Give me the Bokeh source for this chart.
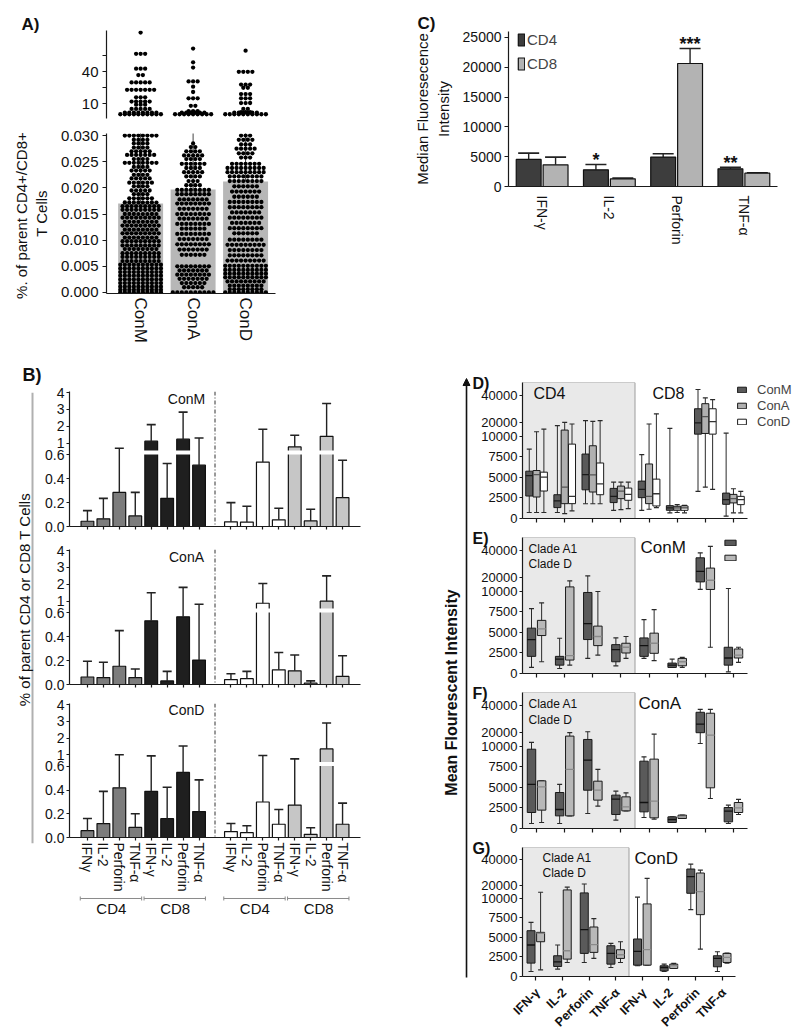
import numpy as np
from math import pi
from bokeh.plotting import figure
from bokeh.layouts import column, row
from bokeh.models import (Range1d, FactorRange, FixedTicker, NumeralTickFormatter, Label, Title,
                          Legend, LegendItem, Span, Arrow, NormalHead, ColumnDataSource,
                          CustomJSTransform, Spacer)
from bokeh.transform import dodge, transform
from bokeh.core.properties import value
from bokeh.embed import file_html
from bokeh.resources import INLINE

FONT = "Liberation Sans"
INK = "#1a1a1a"

# ====================== DATA ======================
# ---- Panel A: % of parent CD4+/CD8+ T cells (swarm rows: value, number of dots)
A_GROUPS = ["ConM", "ConA", "ConD"]
A_MEAN = [0.0170, 0.0197, 0.0212]
A_SD_TOP = [0.05, 0.05, 0.05]

A_CONM_LO_VALS = [0.0300, 0.0292, 0.0285, 0.0277, 0.0270, 0.0263, 0.0255, 0.0248, 0.0240, 0.0233,
                  0.0225, 0.0218, 0.0210, 0.0203, 0.0195, 0.0188, 0.0180, 0.0172, 0.0165, 0.0158,
                  0.0150, 0.0143, 0.0135, 0.0128, 0.0120, 0.0113, 0.0105, 0.0098, 0.0090, 0.0083,
                  0.0075, 0.0068, 0.0060, 0.0053, 0.0046, 0.0039, 0.0032, 0.0025, 0.0018, 0.0011,
                  0.0005, 0.0000]
A_CONM_LO_N = [8, 4, 4, 4, 5, 7, 4, 8, 4, 5, 4, 5, 6, 4, 5, 4, 6, 8, 9, 9,
               8, 9, 8, 9, 8, 9, 8, 9, 9, 8, 9, 9, 9, 10, 10, 10, 10, 10, 10, 10, 10, 10]
A_CONA_LO_VALS = [0.0285, 0.0278, 0.0270, 0.0262, 0.0255, 0.0246, 0.0238, 0.0230, 0.0222, 0.0213,
                  0.0205, 0.0196, 0.0188, 0.0178, 0.0170, 0.0160, 0.0150, 0.0141, 0.0131, 0.0122,
                  0.0112, 0.0102, 0.0092, 0.0082, 0.0072, 0.0050, 0.0042, 0.0034, 0.0026, 0.0018,
                  0.0010, 0.0000]
A_CONA_LO_N = [1, 2, 4, 5, 4, 6, 4, 5, 4, 3, 4, 8, 8, 7, 8, 7, 8, 7, 8, 6,
               8, 7, 8, 7, 6, 8, 7, 8, 7, 6, 5, 10]
A_COND_LO_VALS = [0.0300, 0.0292, 0.0283, 0.0275, 0.0266, 0.0258, 0.0246, 0.0238, 0.0230, 0.0222,
                  0.0213, 0.0203, 0.0193, 0.0183, 0.0173, 0.0163, 0.0153, 0.0143, 0.0133, 0.0123,
                  0.0113, 0.0101, 0.0091, 0.0081, 0.0071, 0.0061, 0.0051, 0.0043, 0.0036, 0.0029,
                  0.0021, 0.0013, 0.0006, 0.0000]
A_COND_LO_N = [3, 4, 3, 5, 4, 3, 7, 9, 9, 8, 8, 6, 7, 6, 8, 8, 7, 8, 7, 8,
               6, 8, 9, 8, 8, 9, 10, 10, 10, 10, 9, 8, 8, 10]
A_CONM_HI_VALS = [77, 57, 43, 37, 30, 23, 16, 12, 9, 5, 1.5, 0]
A_CONM_HI_N = [1, 3, 3, 2, 5, 7, 3, 5, 3, 5, 8, 10]
A_CONA_HI_VALS = [62, 49, 44, 31, 26, 21, 15, 8, 3, 1.5, 0]
A_CONA_HI_N = [1, 1, 1, 3, 1, 1, 3, 2, 3, 6, 9]
A_COND_HI_VALS = [60, 40, 28, 25, 19, 15, 10.6, 5, 2, 1.5, 0]
A_COND_HI_N = [1, 4, 3, 2, 3, 3, 3, 2, 3, 6, 10]

# ---- Panel B: % of parent CD4 or CD8 T cells (mean, upper error)
B_CYTOKINES = ["IFNγ", "IL-2", "Perforin", "TNF-α", "IFN-γ", "IL-2", "Perforin", "TNF-α"]
B_CELLS = ["CD4", "CD8", "CD4", "CD8"]
B_FILLS = ["#7c7c7c", "#1f1f1f", "#ffffff", "#c6c6c6"]
B_CONM_MEAN = [0.044, 0.064, 0.286, 0.089, 1.12, 0.236, 1.24, 0.514,
               0.039, 0.037, 0.54, 0.056, 0.78, 0.047, 1.41, 0.242]
B_CONM_ERR = [0.133, 0.236, 0.70, 0.286, 2.10, 0.528, 2.84, 1.31,
              0.20, 0.17, 1.83, 0.153, 1.47, 0.144, 3.35, 0.556]
B_CONA_MEAN = [0.063, 0.058, 0.153, 0.058, 0.534, 0.030, 0.567, 0.205,
               0.041, 0.049, 0.88, 0.123, 0.115, 0.011, 1.0, 0.068]
B_CONA_ERR = [0.195, 0.186, 0.452, 0.130, 1.50, 0.110, 1.82, 0.82,
              0.090, 0.110, 2.05, 0.268, 0.247, 0.030, 2.5, 0.241]
B_COND_MEAN = [0.058, 0.118, 0.42, 0.085, 0.39, 0.159, 0.55, 0.219,
               0.050, 0.041, 0.30, 0.112, 0.274, 0.027, 1.35, 0.112]
B_COND_ERR = [0.160, 0.390, 1.00, 0.200, 0.94, 0.424, 1.53, 0.487,
              0.118, 0.099, 0.96, 0.236, 0.76, 0.082, 2.9, 0.290]
B_TICKS = [0, 0.2, 0.4, 0.6, 1, 2, 3, 4]
B_TICK_LABELS = ["0.0", "0.2", "0.4", "0.6", "1", "2", "3", "4"]

# ---- Panel C: median fluorescence intensity
C_CYTOKINES = ["IFN-γ", "IL-2", "Perforin", "TNF-α"]
C_CD4 = [4550, 2800, 4930, 2970]
C_CD4_ERR = [5600, 3700, 5490, 3200]
C_CD8 = [3640, 1290, 20630, 2240]
C_CD8_ERR = [4930, 1400, 23150, 2300]
C_CD4_SIG = ["", "*", "", "**"]
C_CD8_SIG = ["", "", "***", ""]

# ---- Panels D-G: mean fluorescent intensity box plots (low whisker, q1, median, q3, high whisker)
MFI_CYTOKINES = ["IFN-γ", "IL-2", "Perforin", "TNF-α"] * 2
MFI_CELLS = ["CD4"] * 4 + ["CD8"] * 4
MFI_TICKS = [0, 2500, 5000, 7500, 10000, 20000, 40000]

D_CONM = dict(low=[730, 730, 1800, 1000, 1000, 690, 3300, 280],
              q1=[2740, 1330, 3500, 1940, 2540, 1000, 11750, 1730],
              med=[5240, 2140, 5360, 2700, 3550, 1290, 20000, 2300],
              q3=[5770, 2900, 7860, 3670, 4560, 1570, 30500, 3100],
              high=[8470, 18000, 21750, 4440, 7780, 16000, 44750, 12500])
D_CONA = dict(low=[730, 600, 1800, 1090, 1130, 730, 3830, 690],
              q1=[2620, 1810, 3230, 2420, 1810, 1000, 12250, 1900],
              med=[5360, 3830, 5320, 3350, 2700, 1290, 24750, 2420],
              q3=[5850, 14750, 8870, 3950, 6650, 1490, 34250, 2940],
              high=[13500, 20500, 21250, 4440, 19250, 1700, 38500, 3630])
D_COND = dict(low=[730, 930, 1800, 1200, 1330, 690, 3550, 690],
              q1=[3350, 1810, 2900, 2220, 1530, 1000, 11750, 1690],
              med=[5040, 2700, 4230, 2940, 3020, 1290, 21000, 2300],
              q3=[5650, 9070, 6770, 3710, 4800, 1530, 30500, 2700],
              high=[15500, 19250, 21750, 4440, 26750, 1610, 37250, 3310])
E_A1 = dict(low=[740, 610, 1840, 940, 1840, 740, 11500, 200],
            q1=[2090, 1020, 4140, 1430, 2090, 740, 17100, 1020],
            med=[4140, 1760, 6070, 2910, 3400, 1020, 24900, 1890],
            q3=[5530, 2090, 9880, 3520, 4340, 1270, 34900, 3200],
            high=[7900, 4300, 21500, 4340, 6560, 1760, 38500, 12200])
E_D = dict(low=[1430, 1020, 2250, 1840, 1560, 740, 3200, 1350],
           q1=[4630, 1640, 3400, 2500, 2460, 940, 11500, 1890],
           med=[5450, 2170, 4510, 3200, 3690, 1430, 18300, 2250],
           q3=[6480, 13400, 5780, 3690, 4920, 1840, 27300, 2990],
           high=[8610, 17800, 10000, 4510, 7790, 1970, 43400, 3200])
F_A1 = dict(low=[610, 610, 1830, 1020, 1340, 730, 12200, 610],
            q1=[1950, 1540, 4670, 1710, 2030, 730, 20200, 810],
            med=[5370, 2320, 8330, 3580, 3170, 1100, 26600, 2110],
            q3=[9670, 4390, 15200, 4070, 8210, 1420, 35300, 2560],
            high=[13000, 5370, 20900, 4550, 8740, 1420, 37500, 2850])
F_D = dict(low=[730, 1540, 2720, 2150, 1140, 1220, 3660, 1710],
           q1=[2240, 1540, 3460, 2150, 1300, 1220, 4960, 1950],
           med=[5080, 7200, 4670, 2640, 3330, 1420, 18400, 2520],
           q3=[5810, 17700, 5770, 3860, 8460, 1630, 34600, 3170],
           high=[5810, 20200, 7200, 4350, 19200, 1630, 37500, 3540])
G_A1 = dict(low=[640, 940, 1790, 1150, 1370, 640, 8550, 640],
            q1=[1710, 1280, 2950, 1580, 1450, 730, 13800, 1240],
            med=[4020, 1880, 5980, 2950, 3210, 1150, 26700, 2310],
            q3=[5850, 2650, 14100, 3930, 4790, 1370, 32600, 2650],
            high=[6920, 4020, 21000, 4230, 10770, 1580, 36400, 3160])
G_D = dict(low=[850, 1790, 2310, 1790, 1450, 1030, 3500, 1710],
           q1=[4440, 2220, 3080, 2310, 1450, 1030, 7900, 1790],
           med=[5510, 3290, 4060, 2780, 3420, 1370, 15100, 2440],
           q3=[5640, 16400, 6320, 3420, 9270, 1580, 29500, 2950],
           high=[14600, 18500, 7390, 4440, 25400, 1670, 31800, 2990])


# ====================== HELPERS ======================
def style_axis(ax, size="14px"):
    ax.axis_line_color = INK
    ax.axis_line_width = 1.2
    ax.major_tick_line_color = INK
    ax.major_tick_line_width = 1.2
    ax.major_tick_in = 0
    ax.major_tick_out = 4
    ax.minor_tick_line_color = None
    ax.major_label_text_font = FONT
    ax.major_label_text_font_size = size
    ax.major_label_text_color = "#111111"
    ax.major_label_standoff = 3
    ax.axis_label_text_font = FONT
    ax.axis_label_text_font_style = "normal"
    ax.axis_label_text_color = "#111111"


def base_fig(w, h, xr, yr, left, right, top, bottom, xaxis=True, yaxis=True):
    p = figure(width=w, height=h, x_range=xr, y_range=yr, output_backend="svg",
               toolbar_location=None,
               x_axis_location="below" if xaxis else None,
               y_axis_location="left" if yaxis else None,
               min_border_left=left, min_border_right=right,
               min_border_top=top, min_border_bottom=bottom)
    p.outline_line_color = None
    p.xgrid.visible = False
    p.ygrid.visible = False
    p.border_fill_color = "white"
    p.background_fill_color = "white"
    for ax in p.axis:
        style_axis(ax)
    return p


def add_text(p, x, y, text, size, bold=False, align="left", xu="screen", yu="screen", angle=0):
    p.add_layout(Label(x=x, y=y, x_units=xu, y_units=yu, text=text, text_font=FONT,
                       text_font_size=size, text_font_style="bold" if bold else "normal",
                       text_align=align, text_baseline="middle", text_color="#111111",
                       angle=angle))


def add_letter(p, text, offset, standoff, size="18px"):
    p.add_layout(Title(text=text, align="left", offset=offset, standoff=standoff,
                       text_font=FONT, text_font_size=size, text_font_style="bold",
                       text_color="#111111"), "above")


# ====================== PANEL A ======================
DOT_STEP = 0.086


def swarm(center, vals, counts):
    xs, ys = [], []
    for v, n in zip(vals, counts):
        for i in range(n):
            xs.append(center + (i - (n - 1) / 2) * DOT_STEP)
            ys.append(v)
    return xs, ys


a_x = list(range(len(A_GROUPS)))
a_xr = Range1d(-0.65, 2.57)
DOT = 4.3

a_top = base_fig(382, 114, a_xr, Range1d(-4, 79), 98, 115, 22, 4, xaxis=False)
a_top.yaxis.ticker = FixedTicker(ticks=[10, 25, 40, 55])
a_top.yaxis.major_label_overrides = {25: "", 55: ""}
a_top.yaxis.major_label_text_font_size = "15px"
a_top.yaxis.major_label_standoff = 4
for c, vals, n in zip(a_x, [A_CONM_HI_VALS, A_CONA_HI_VALS, A_COND_HI_VALS],
                      [A_CONM_HI_N, A_CONA_HI_N, A_COND_HI_N]):
    xs, ys = swarm(c, vals, n)
    a_top.scatter(xs, ys, size=DOT, fill_color="#000000", line_color=None)
add_letter(a_top, "A)", -85, -6, "17px")

a_bot = base_fig(382, 230, a_xr, Range1d(-0.0002, 0.0304), 98, 115, 11, 59)
a_bot.vbar(x=a_x, top=A_MEAN, width=0.857, fill_color="#b7b7b7", line_color=None)
a_bot.segment(x0=a_x, y0=A_MEAN, x1=a_x, y1=A_SD_TOP, line_color="#444444", line_width=1)
for c, vals, n in zip(a_x, [A_CONM_LO_VALS, A_CONA_LO_VALS, A_COND_LO_VALS],
                      [A_CONM_LO_N, A_CONA_LO_N, A_COND_LO_N]):
    xs, ys = swarm(c, vals, n)
    a_bot.scatter(xs, ys, size=DOT, fill_color="#000000", line_color=None)
a_bot.yaxis.ticker = FixedTicker(ticks=[0, 0.005, 0.010, 0.015, 0.020, 0.025, 0.030])
a_bot.yaxis.formatter = NumeralTickFormatter(format="0.000")
a_bot.yaxis.major_label_text_font_size = "15px"
a_bot.yaxis.major_label_standoff = 4
a_bot.yaxis.axis_label = "%. of parent  CD4+/CD8+\nT Cells"
a_bot.yaxis.axis_label_text_font_size = "15px"
a_bot.yaxis.axis_label_standoff = 8
a_bot.xaxis.ticker = FixedTicker(ticks=a_x)
a_bot.xaxis.major_label_overrides = dict(zip(a_x, A_GROUPS))
a_bot.xaxis.major_label_orientation = "vertical"
a_bot.xaxis.major_label_text_font_size = "17px"
a_bot.xaxis.major_tick_out = 0
a_bot.xaxis.major_label_standoff = 4

# ====================== PANEL B (broken y axis: 0-0.6 then compressed 0.6-4) ======================
b_pos = list(range(8)) + list(range(9, 17))
b_labels = B_CYTOKINES * 2
b_fill = [f for f in B_FILLS for _ in range(4)]
b_gap = 8
BX = Range1d(-1.125, 17.125)
B_BREAK = 0.6
B_GAP = 5 / 120
B_K = 17 / 120
b_tf = CustomJSTransform(args=dict(c=B_BREAK, g=B_GAP, k=B_K),
                         v_func="return xs.map((v) => v <= c ? v : c + g + (v - c) * k)")


def b_scale(v):
    return v if v <= B_BREAK else B_BREAK + B_GAP + (v - B_BREAK) * B_K


def b_panel(h, top, bottom, mean, err, title, show_labels):
    p = base_fig(348, h, BX, Range1d(0, b_scale(4.06)), 26, 30, top, bottom)
    p.yaxis.ticker = FixedTicker(ticks=[b_scale(v) for v in B_TICKS])
    p.yaxis.major_label_overrides = {b_scale(v): l for v, l in zip(B_TICKS, B_TICK_LABELS)}
    p.yaxis.major_label_standoff = 2
    p.yaxis.major_tick_out = 3
    p.xaxis.ticker = FixedTicker(ticks=b_pos)
    p.xaxis.major_label_overrides = {x: (l if show_labels else "") for x, l in zip(b_pos, b_labels)}
    p.xaxis.major_label_orientation = "vertical"
    p.xaxis.major_tick_out = 3
    p.xaxis.major_label_standoff = 2
    src = ColumnDataSource(dict(x=b_pos, mean=mean, err=err, fill=b_fill))
    p.vbar(x="x", top=transform("mean", b_tf), bottom=0, width=0.8, source=src, fill_color="fill",
           line_color="#111111", line_width=1.2)
    # white break band of the broken axis
    p.quad(left=BX.start, right=BX.end, bottom=B_BREAK + 0.004, top=B_BREAK + B_GAP - 0.004,
           fill_color="white", line_color=None)
    p.segment(x0="x", y0=transform("mean", b_tf), x1="x", y1=transform("err", b_tf), source=src,
              line_color="#222222", line_width=1.4)
    p.scatter(x="x", y=transform("err", b_tf), source=src, marker="dash", size=9,
              line_color="#222222", line_width=1.6)
    p.add_layout(Span(location=b_gap, dimension="height", line_color="#333333",
                      line_width=1, line_dash="4 2 1 2"))
    add_text(p, 117, 128, title, "14px", align="center")
    return p


b1 = b_panel(183, 39, 9, B_CONM_MEAN, B_CONM_ERR, "ConM", False)
b2 = b_panel(158, 14, 9, B_CONA_MEAN, B_CONA_ERR, "ConA", False)
b3 = b_panel(201, 10, 56, B_COND_MEAN, B_COND_ERR, "ConD", True)

b_grp = base_fig(348, 129, BX, Range1d(0, 1), 26, 30, 0, 99, xaxis=False, yaxis=False)
g_x0, g_x1, g_c = [], [], []
for k in range(len(B_CELLS)):
    slots = b_pos[4 * k:4 * k + 4]
    g_x0.append(slots[0] - 0.45)
    g_x1.append(slots[-1] + 0.4)
    g_c.append((slots[0] + slots[-1]) / 2)
b_grp.segment(x0=g_x0, y0=0.867, x1=g_x1, y1=0.867, line_color="#8a8a8a", line_width=1)
b_grp.scatter(x=g_x0 + g_x1, y=0.867, marker="dash", angle=pi / 2, size=4, line_color="#8a8a8a")
b_grp.text(x=g_c, y=0.533, text=B_CELLS, text_font=value(FONT), text_font_size="15px",
           text_align="center", text_baseline="middle", text_color="#111111")

# left strip of panel B: letter, shared axis title and the grey rule
b_strip = base_fig(34, 671, Range1d(0, 1), Range1d(0, 1), 0, 0, 40, 180, xaxis=False, yaxis=False)
b_strip.add_layout(Span(location=0.706, dimension="height", line_color="#b0b0b0", line_width=2))
add_text(b_strip, 16, 244, "% of parent CD4 or CD8 T Cells", "15px", align="center", angle=pi / 2)
add_letter(b_strip, "B)", 14, 16)

# ====================== PANEL C ======================
c_src = ColumnDataSource(dict(cat=C_CYTOKINES, cd4=C_CD4, cd4_err=C_CD4_ERR, cd8=C_CD8,
                              cd8_err=C_CD8_ERR, cd4_sig=C_CD4_SIG, cd8_sig=C_CD8_SIG))
c_fig = base_fig(402, 254, FactorRange(*C_CYTOKINES), Range1d(0, 26000), 118, 15, 23, 76)
c_rend = {}
for field, off, fill in [("cd4", -0.2, "#3d3d3d"), ("cd8", 0.2, "#b3b3b3")]:
    xs = dodge("cat", off, range=c_fig.x_range)
    c_fig.segment(x0=xs, y0=field, x1=xs, y1=field + "_err", source=c_src,
                  line_color="#222222", line_width=1.4)
    c_fig.scatter(x=xs, y=field + "_err", source=c_src, marker="dash", size=21,
                  line_color="#222222", line_width=1.6)
    c_rend[field] = c_fig.vbar(x=xs, top=field, width=0.37, source=c_src, fill_color=fill,
                               line_color="#111111", line_width=1.2)
    c_fig.text(x=xs, y=field + "_err", text=field + "_sig", source=c_src, y_offset=-4,
               text_font=value(FONT), text_font_size="18px", text_font_style="bold",
               text_align="center", text_baseline="middle", text_color="#111111")
c_fig.yaxis.ticker = FixedTicker(ticks=[0, 5000, 10000, 15000, 20000, 25000])
c_fig.yaxis.axis_label = "Median Fluoresecence\nIntensity"
c_fig.yaxis.axis_label_text_font_size = "15px"
c_fig.yaxis.axis_label_standoff = 8
c_fig.xaxis.major_label_orientation = "vertical"
c_fig.xaxis.major_tick_out = 0
c_fig.xaxis.major_label_standoff = 9
c_leg = Legend(items=[LegendItem(label="CD4", renderers=[c_rend["cd4"]]),
                      LegendItem(label="CD8", renderers=[c_rend["cd8"]])],
               location=(9, 114), glyph_width=8, glyph_height=15, label_height=15, spacing=7,
               label_standoff=2, padding=0, margin=0, border_line_color=None,
               background_fill_alpha=0, label_text_font=FONT, label_text_font_size="15px")
c_fig.add_layout(c_leg)
add_letter(c_fig, "C)", -91, -2, "17px")

# ====================== PANELS D-G ======================
MFI_BREAK = 10000
MFI_SQUEEZE = 0.165
mfi_tf = CustomJSTransform(args=dict(b=MFI_BREAK, k=MFI_SQUEEZE),
                           v_func="return xs.map((v) => v <= b ? v : b + (v - b) * k)")


def mfi_pos(v):
    return v if v <= MFI_BREAK else int(round(MFI_BREAK + (v - MFI_BREAK) * MFI_SQUEEZE))


def T(f):
    return transform(f, mfi_tf)


n_mfi = len(MFI_CYTOKINES)
mfi_x = [i + 0.5 for i in range(n_mfi)]
cd4_idx = [i for i, c in enumerate(MFI_CELLS) if c == "CD4"]
DEF_XR = Range1d(0, 9.6)      # 28.1 px per cytokine, frame reaches the legend area
G_XR = Range1d(0, 10.14)      # bottom panel is slightly narrower per cytokine
G_PX = 270 / 10.14
G_LAB_XR = Range1d(-92 / G_PX, 10.14)


def mfi_fig(h, top, bottom, ytop, xr):
    p = base_fig(320, h, xr, Range1d(0, ytop), 50, 0, top, bottom)
    for ax in p.axis:
        style_axis(ax, "13px")
    p.yaxis.ticker = FixedTicker(ticks=[mfi_pos(v) for v in MFI_TICKS])
    p.yaxis.major_label_overrides = {mfi_pos(v): str(v) for v in MFI_TICKS}
    p.yaxis.major_tick_out = 3
    p.yaxis.major_label_standoff = 2
    p.xaxis.ticker = FixedTicker(ticks=mfi_x)
    p.xaxis.major_label_overrides = {x: "" for x in mfi_x}
    p.xaxis.major_tick_out = 4
    p.xaxis.major_label_standoff = 0
    p.xaxis.bounds = (0, n_mfi)
    p.quad(left=min(cd4_idx), right=max(cd4_idx) + 1, bottom=0, top=ytop,
           fill_color="#e9e9e9", line_color="#9c9c9c", line_width=1)
    return p


def mfi_boxes(p, stats, off, w, fill, med_color, cap=5):
    xs = [x + off for x in mfi_x]
    src = ColumnDataSource(dict(x=xs, xl=[x - w / 2 for x in xs], xr=[x + w / 2 for x in xs], **stats))
    p.segment(x0="x", y0=T("low"), x1="x", y1=T("high"), source=src, line_color="#2a2a2a", line_width=1)
    p.scatter(x="x", y=T("low"), source=src, marker="dash", size=cap, line_color="#2a2a2a", line_width=1.2)
    p.scatter(x="x", y=T("high"), source=src, marker="dash", size=cap, line_color="#2a2a2a", line_width=1.2)
    r = p.vbar(x="x", width=w, bottom=T("q1"), top=T("q3"), source=src, fill_color=fill,
               line_color="#1a1a1a", line_width=1)
    p.segment(x0="xl", y0=T("med"), x1="xr", y1=T("med"), source=src, line_color=med_color, line_width=1.3)
    return r


DARK, LIGHT = "#5a5a5a", "#b8b8b8"
LETTER = "16px"

d_fig = mfi_fig(266, 120, 10, 16585, DEF_XR)
rd = [mfi_boxes(d_fig, D_CONM, -0.26, 0.25, DARK, "#1a1a1a"),
      mfi_boxes(d_fig, D_CONA, 0.0, 0.25, "#b0b0b0", "#555555"),
      mfi_boxes(d_fig, D_COND, 0.26, 0.25, "#ffffff", "#333333")]
d_leg = Legend(items=[LegendItem(label=n, renderers=[r]) for n, r in zip(["ConM", "ConA", "ConD"], rd)],
               location=(214, 89), glyph_width=11, glyph_height=7, label_height=14, spacing=1,
               label_standoff=10, padding=0, margin=0, border_line_color=None,
               background_fill_alpha=0, label_text_font=FONT, label_text_font_size="13px",
               label_text_baseline="alphabetic")
d_fig.add_layout(d_leg)
add_text(d_fig, 11, 125, "CD4", "16px")
add_text(d_fig, 130, 125, "CD8", "16px")
add_letter(d_fig, "D)", -50, -18, LETTER)

e_fig = mfi_fig(155, 9, 10, 16585, DEF_XR)
re = [mfi_boxes(e_fig, E_A1, -0.18, 0.3, DARK, "#111111"),
      mfi_boxes(e_fig, E_D, 0.18, 0.3, LIGHT, "#8a8a8a")]
e_leg = Legend(items=[LegendItem(label=" ", renderers=[r]) for r in re],
               location=(201, 111), glyph_width=14, glyph_height=7, label_height=9, spacing=6,
               label_standoff=0, padding=0, margin=0, border_line_color=None,
               background_fill_alpha=0, label_text_font=FONT, label_text_font_size="8px")
e_fig.add_layout(e_leg)
add_text(e_fig, 6, 125, "Clade A1", "12px")
add_text(e_fig, 6, 110, "Clade D", "12px")
add_text(e_fig, 118, 126, "ConM", "17px")
add_letter(e_fig, "E)", -50, -19, LETTER)

f_fig = mfi_fig(155, 9, 10, 16585, DEF_XR)
mfi_boxes(f_fig, F_A1, -0.18, 0.3, DARK, "#111111")
mfi_boxes(f_fig, F_D, 0.18, 0.3, LIGHT, "#8a8a8a")
add_text(f_fig, 6, 125, "Clade A1", "12px")
add_text(f_fig, 6, 109, "Clade D", "12px")
add_text(f_fig, 116, 125, "ConA", "17px")
add_letter(f_fig, "F)", -50, -19, LETTER)

g_fig = mfi_fig(146, 9, 8, 16475, G_XR)
mfi_boxes(g_fig, G_A1, -0.18, 0.3, DARK, "#111111")
mfi_boxes(g_fig, G_D, 0.18, 0.3, LIGHT, "#8a8a8a")
add_text(g_fig, 20, 119, "Clade A1", "12px")
add_text(g_fig, 20, 104, "Clade D", "12px")
add_text(g_fig, 112, 118, "ConD", "17px")
add_letter(g_fig, "G)", -50, -19, LETTER)

# rotated cytokine names under panel G (same px-per-cytokine scale as panel G)
g_lab = base_fig(362, 46, G_LAB_XR, Range1d(0, 1), 0, 0, 0, 0, xaxis=False, yaxis=False)
g_lab.text(x=mfi_x, y=1, text=MFI_CYTOKINES, angle=pi / 4, x_offset=2, y_offset=6,
           text_font=value(FONT), text_font_size="12.5px", text_font_style="bold",
           text_align="right", text_baseline="middle", text_color="#111111")

# strip left of D-G: axis title and the long arrow
m_strip = base_fig(82, 722, Range1d(0, 1), Range1d(0, 1), 0, 0, 0, 0, xaxis=False, yaxis=False)
add_text(m_strip, 61, 292, "Mean Flourescent Intensity", "16px", bold=True, align="center", angle=pi / 2)
m_strip.add_layout(Arrow(end=NormalHead(size=7, fill_color="#111111", line_color="#111111"),
                         x_start=0.927, y_start=0.0097, x_end=0.927, y_end=0.8393,
                         line_color="#111111", line_width=1.6))

# ====================== LAYOUT ======================
left_col = column(a_top, a_bot,
                  row(b_strip, column(b1, b2, b3, b_grp)))
right_col = column(c_fig,
                   row(m_strip, column(d_fig, e_fig, f_fig, g_fig)),
                   row(Spacer(width=40, height=46), g_lab))
root = column(Spacer(width=792, height=8),
              row(Spacer(width=8, height=10), left_col, right_col))

open("out.html", "w").write(file_html(root, INLINE))
